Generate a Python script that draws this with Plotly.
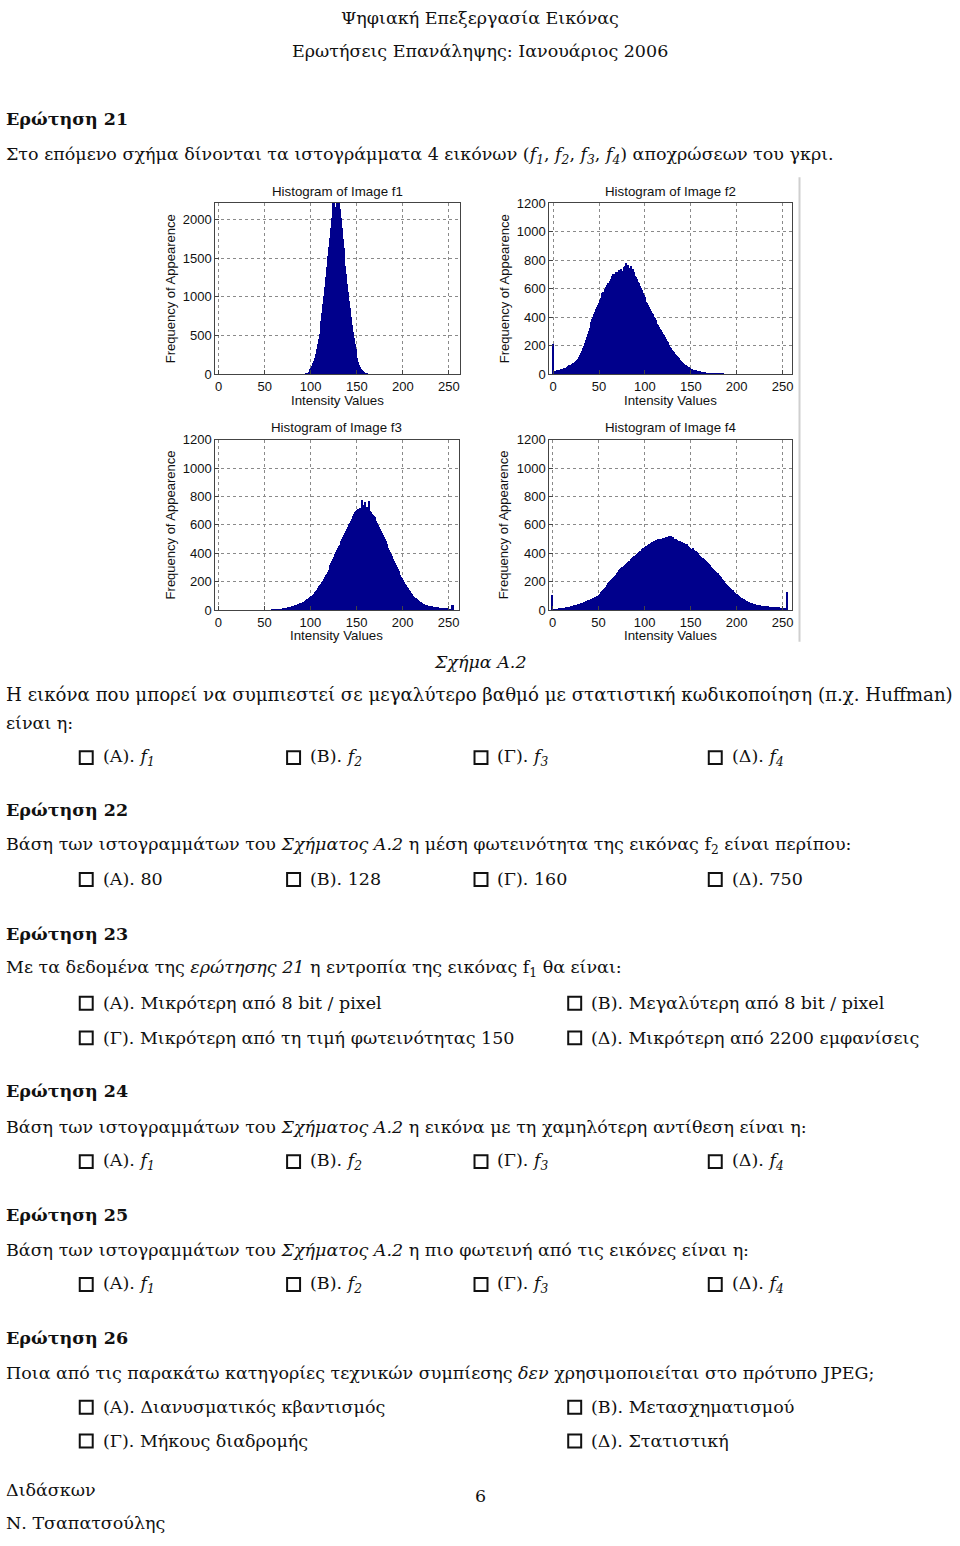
import plotly.graph_objects as go

# ---------------- data ----------------
intensity = list(range(256))

f1_counts = [
    0, 0, 0, 0, 0, 0, 0, 0, 0, 0, 0, 0, 0, 0, 0, 0,
    0, 0, 0, 0, 0, 0, 0, 0, 0, 0, 0, 0, 0, 0, 0, 0,
    0, 0, 0, 0, 0, 0, 0, 0, 0, 0, 0, 0, 0, 0, 0, 0,
    0, 0, 0, 0, 0, 0, 0, 0, 0, 0, 0, 0, 0, 0, 0, 0,
    0, 0, 0, 0, 0, 0, 0, 0, 0, 0, 0, 0, 0, 0, 0, 0,
    0, 0, 0, 0, 0, 0, 0, 0, 0, 0, 0, 0, 0, 0, 2, 5,
    10, 18, 30, 45, 65, 85, 110, 140, 175, 215, 265, 320, 385, 450, 520, 600,
    690, 790, 900, 1010, 1120, 1250, 1380, 1520, 1640, 1760, 1880, 2010, 2120, 2230, 2250, 2160,
    2150, 2240, 2250, 2230, 2130, 2010, 1880, 1750, 1630, 1520, 1400, 1290, 1170, 1060, 950, 850,
    740, 640, 550, 470, 390, 320, 260, 205, 160, 125, 95, 72, 54, 40, 29, 20,
    14, 9, 6, 4, 2, 1, 0, 0, 0, 0, 0, 0, 0, 0, 0, 0,
    0, 0, 0, 0, 0, 0, 0, 0, 0, 0, 0, 0, 0, 0, 0, 0,
    0, 0, 0, 0, 0, 0, 0, 0, 0, 0, 0, 0, 0, 0, 0, 0,
    0, 0, 0, 0, 0, 0, 0, 0, 0, 0, 0, 0, 0, 0, 0, 0,
    0, 0, 0, 0, 0, 0, 0, 0, 0, 0, 0, 0, 0, 0, 0, 0,
    0, 0, 0, 0, 0, 0, 0, 0, 0, 0, 0, 0, 0, 0, 0, 0,
]

f2_counts = [
    215, 18, 22, 25, 27, 26, 30, 33, 31, 36, 38, 37, 42, 45, 44, 50,
    54, 58, 62, 60, 68, 75, 80, 78, 88, 95, 102, 110, 118, 125, 135, 148,
    165, 182, 200, 220, 240, 258, 280, 300, 325, 345, 365, 385, 405, 420, 440, 455,
    470, 485, 500, 520, 535, 555, 570, 580, 560, 595, 610, 625, 640, 630, 655, 665,
    690, 680, 700, 690, 705, 715, 700, 720, 730, 710, 740, 725, 720, 750, 735, 760,
    780, 700, 765, 745, 720, 760, 700, 740, 700, 715, 690, 680, 665, 650, 640, 620,
    605, 590, 570, 555, 540, 525, 510, 500, 485, 470, 460, 445, 430, 420, 405, 395,
    380, 370, 355, 345, 330, 320, 308, 295, 285, 272, 260, 248, 236, 225, 214, 203,
    192, 182, 172, 162, 153, 144, 135, 127, 119, 111, 104, 97, 90, 84, 78, 72,
    67, 62, 57, 53, 49, 45, 42, 39, 36, 33, 31, 29, 27, 25, 23, 21,
    20, 18, 17, 16, 15, 14, 13, 12, 11, 10, 9, 9, 8, 7, 7, 6,
    6, 5, 5, 4, 4, 4, 3, 3, 3, 3, 2, 2, 2, 2, 2, 1,
    1, 1, 1, 1, 1, 1, 1, 0, 1, 0, 0, 0, 0, 0, 0, 0,
    0, 0, 0, 0, 0, 0, 0, 0, 0, 0, 0, 0, 0, 0, 0, 0,
    0, 0, 0, 0, 0, 0, 0, 0, 0, 0, 0, 0, 0, 0, 0, 0,
    0, 0, 0, 0, 0, 0, 0, 0, 0, 0, 0, 0, 0, 0, 0, 0,
]

f3_counts = [
    0, 0, 0, 0, 0, 0, 0, 0, 0, 0, 0, 0, 0, 0, 0, 0,
    0, 0, 0, 0, 0, 0, 0, 0, 0, 0, 0, 0, 0, 0, 0, 0,
    0, 0, 0, 0, 0, 0, 0, 0, 0, 0, 0, 0, 0, 0, 0, 0,
    0, 0, 0, 0, 0, 0, 0, 1, 1, 2, 2, 3, 3, 4, 5, 5,
    6, 7, 8, 9, 10, 11, 12, 14, 15, 16, 18, 19, 20, 22, 24, 26,
    28, 30, 32, 34, 36, 38, 41, 44, 47, 50, 52, 55, 58, 62, 66, 70,
    74, 78, 82, 88, 92, 98, 104, 110, 118, 126, 134, 142, 150, 158, 168, 178,
    188, 198, 210, 222, 234, 246, 258, 270, 284, 300, 316, 330, 345, 362, 378, 395,
    410, 422, 436, 450, 462, 476, 490, 504, 518, 532, 545, 560, 575, 590, 605, 618,
    630, 640, 655, 665, 680, 690, 700, 705, 715, 700, 720, 710, 775, 740, 700, 735,
    760, 700, 730, 690, 770, 700, 690, 680, 670, 665, 655, 640, 630, 615, 600, 585,
    570, 560, 545, 530, 515, 500, 485, 470, 455, 440, 425, 410, 395, 380, 365, 350,
    335, 320, 305, 290, 275, 262, 250, 238, 225, 212, 200, 188, 176, 165, 155, 145,
    136, 128, 120, 112, 104, 97, 90, 84, 78, 72, 67, 62, 58, 54, 50, 46,
    43, 40, 38, 36, 34, 32, 31, 29, 28, 26, 25, 24, 23, 22, 21, 20,
    19, 18, 18, 17, 16, 15, 15, 14, 13, 13, 12, 12, 11, 10, 35, 40,
]

f4_counts = [
    110, 8, 9, 10, 11, 10, 12, 13, 14, 13, 15, 16, 17, 18, 19, 20,
    22, 23, 25, 26, 28, 30, 29, 32, 35, 33, 38, 40, 42, 44, 48, 50,
    52, 54, 57, 60, 62, 64, 67, 70, 73, 76, 80, 82, 85, 88, 92, 95,
    98, 100, 104, 110, 118, 126, 134, 142, 150, 158, 166, 175, 184, 192, 200, 208,
    215, 222, 230, 238, 245, 252, 260, 268, 275, 282, 290, 296, 302, 308, 315, 322,
    328, 335, 340, 345, 350, 356, 362, 368, 374, 380, 385, 392, 398, 404, 410, 416,
    420, 425, 430, 436, 440, 445, 450, 455, 460, 465, 470, 474, 478, 482, 486, 490,
    492, 495, 498, 500, 485, 502, 505, 495, 508, 510, 500, 512, 515, 505, 518, 522,
    510, 525, 505, 515, 500, 495, 505, 490, 498, 480, 492, 485, 475, 480, 470, 472,
    465, 460, 470, 455, 450, 445, 440, 435, 430, 440, 425, 420, 415, 410, 405, 398,
    390, 384, 378, 372, 366, 360, 355, 348, 342, 335, 328, 322, 315, 308, 300, 294,
    287, 280, 273, 266, 260, 252, 244, 236, 228, 220, 212, 204, 196, 188, 180, 172,
    165, 158, 152, 146, 140, 134, 128, 122, 118, 112, 106, 100, 95, 90, 86, 82,
    78, 74, 70, 66, 63, 60, 57, 54, 51, 49, 47, 45, 43, 41, 39, 38,
    37, 36, 35, 34, 33, 32, 31, 30, 30, 29, 28, 28, 27, 27, 26, 26,
    25, 24, 23, 22, 22, 21, 20, 19, 18, 17, 16, 15, 14, 13, 12, 130,
]

x_ticks = [0, 50, 100, 150, 200, 250]
y_ticks_f1 = [0, 500, 1000, 1500, 2000]
y_ticks_other = [0, 200, 400, 600, 800, 1000, 1200]
titles = ["Histogram of Image f1", "Histogram of Image f2",
          "Histogram of Image f3", "Histogram of Image f4"]

# ---------------- layout helpers ----------------
W, H = 960, 1546
def px(x):
    return x / W
def py(y):
    return 1 - y / H

panels = [
    # (counts, left, right, top, bottom, xrange, yrange, yticks)
    (f1_counts, 215, 460, 198, 371, [-3.5, 261.5], [0, 2208], y_ticks_f1),
    (f2_counts, 550, 793, 198, 371, [-4.2, 259.8], [0, 1200], y_ticks_other),
    (f3_counts, 215, 459, 437, 609, [-3.3, 260.8], [0, 1200], y_ticks_other),
    (f4_counts, 550, 793, 437, 609, [-3.6, 259.8], [0, 1200], y_ticks_other),
]

fig = go.Figure()
sans = "Liberation Sans, Arial, sans-serif"
serif = "DejaVu Serif, serif"
annotations = []

for i, (counts, l, r, t, b, xr, yr, yt) in enumerate(panels):
    n = "" if i == 0 else str(i + 1)
    fig.add_trace(go.Bar(
        x=intensity, y=counts, width=1.0,
        marker=dict(color="#00008C", line=dict(width=0)),
        xaxis="x" + n, yaxis="y" + n, showlegend=False,
    ))
    axis_common = dict(
        showline=True, mirror=True, linecolor="#444", linewidth=1,
        ticks="inside", ticklen=4, tickcolor="#444",
        showgrid=True, gridcolor="#8a8a8a", griddash="dot", gridwidth=1,
        zeroline=False, tickfont=dict(family=sans, size=13, color="#111"),
        fixedrange=True,
    )
    fig.update_layout(**{
        "xaxis" + n: dict(axis_common, domain=[px(l), px(r)], range=xr,
                          tickvals=x_ticks, anchor="y" + n),
        "yaxis" + n: dict(axis_common, domain=[py(b), py(t)], range=yr,
                          tickvals=yt, anchor="x" + n),
    })
    cx = (l + r) / 2
    annotations.append(dict(text=titles[i], x=px(cx), y=py(t - 12),
                            font=dict(family=sans, size=13.3, color="#111")))
    annotations.append(dict(text="Intensity Values", x=px(cx), y=py(b + 26),
                            font=dict(family=sans, size=13.3, color="#111")))
    annotations.append(dict(text="Frequency of Appearence", x=px(l - 45),
                            y=py((t + b) / 2), textangle=-90,
                            font=dict(family=sans, size=13, color="#111")))

for a in annotations:
    a.update(xref="paper", yref="paper", showarrow=False,
             xanchor="center", yanchor="middle")

# ---------------- document text ----------------
FS = 17.5
def txt(s, x, y, anchor="left", size=FS):
    annotations.append(dict(text=s, x=px(x), y=py(y), xref="paper", yref="paper",
                            showarrow=False, xanchor=anchor, yanchor="middle",
                            font=dict(family=serif, size=size, color="#111")))

shapes = []
def box(x, y):
    shapes.append(dict(type="rect", xref="paper", yref="paper",
                       x0=px(x), x1=px(x + 13), y0=py(y + 6.5), y1=py(y - 6.5),
                       line=dict(color="#111", width=2)))

def option(x, y, s):
    box(x, y)
    txt(s, x + 21, y)

txt("Ψηφιακή Επεξεργασία Εικόνας", 481, 11, "center")
txt("Ερωτήσεις Επανάληψης: Ιανουάριος 2006", 481, 44, "center")

txt("<b>Ερώτηση 21</b>", 3, 113)
txt("Στο επόμενο σχήμα δίνονται τα ιστογράμματα 4 εικόνων (<i>f<sub>1</sub></i>, <i>f<sub>2</sub></i>, "
    "<i>f<sub>3</sub></i>, <i>f<sub>4</sub></i>) αποχρώσεων του γκρι.", 3, 150)
txt("<i>Σχήμα Α.2</i>", 481, 661, "center")
txt("Η εικόνα που μπορεί να συμπιεστεί σε μεγαλύτερο βαθμό με στατιστική κωδικοποίηση (π.χ. Huffman)",
    3, 694, size=18.2)
txt("είναι η:", 3, 723)

cols4 = [79, 287, 475, 710]
fopts = ["(Α). <i>f<sub>1</sub></i>", "(Β). <i>f<sub>2</sub></i>",
         "(Γ). <i>f<sub>3</sub></i>", "(Δ). <i>f<sub>4</sub></i>"]
for cx, s in zip(cols4, fopts):
    option(cx, 758, s)

txt("<b>Ερώτηση 22</b>", 3, 811)
txt("Βάση των ιστογραμμάτων του <i>Σχήματος Α.2</i> η μέση φωτεινότητα της εικόνας f<sub>2</sub> είναι περίπου:", 3, 847)
for cx, s in zip(cols4, ["(Α). 80", "(Β). 128", "(Γ). 160", "(Δ). 750"]):
    option(cx, 881, s)

txt("<b>Ερώτηση 23</b>", 3, 936)
txt("Με τα δεδομένα της <i>ερώτησης 21</i> η εντροπία της εικόνας f<sub>1</sub> θα είναι:", 3, 971)
option(79, 1006, "(Α). Μικρότερη από 8 bit / pixel")
option(569, 1006, "(Β). Μεγαλύτερη από 8 bit / pixel")
option(79, 1041, "(Γ). Μικρότερη από τη τιμή φωτεινότητας 150")
option(569, 1041, "(Δ). Μικρότερη από 2200 εμφανίσεις")

txt("<b>Ερώτηση 24</b>", 3, 1095)
txt("Βάση των ιστογραμμάτων του <i>Σχήματος Α.2</i> η εικόνα με τη χαμηλότερη αντίθεση είναι η:", 3, 1131)
for cx, s in zip(cols4, fopts):
    option(cx, 1166, s)

txt("<b>Ερώτηση 25</b>", 3, 1220)
txt("Βάση των ιστογραμμάτων του <i>Σχήματος Α.2</i> η πιο φωτεινή από τις εικόνες είναι η:", 3, 1255)
for cx, s in zip(cols4, fopts):
    option(cx, 1290, s)

txt("<b>Ερώτηση 26</b>", 3, 1344)
txt("Ποια από τις παρακάτω κατηγορίες τεχνικών συμπίεσης <i>δεν</i> χρησιμοποιείται στο πρότυπο JPEG;", 3, 1379)
option(79, 1414, "(Α). Διανυσματικός κβαντισμός")
option(569, 1414, "(Β). Μετασχηματισμού")
option(79, 1448, "(Γ). Μήκους διαδρομής")
option(569, 1448, "(Δ). Στατιστική")

txt("Διδάσκων", 3, 1498)
txt("6", 481, 1504, "center")
txt("Ν. Τσαπατσούλης", 3, 1531)

# light frame edge at right of the figure image
shapes.append(dict(type="line", xref="paper", yref="paper",
                   x0=px(801), x1=px(801), y0=py(172), y1=py(641),
                   line=dict(color="#cfcfcf", width=2)))

fig.update_layout(
    autosize=True, margin=dict(l=0, r=0, t=0, b=0),
    paper_bgcolor="white", plot_bgcolor="white",
    bargap=0, annotations=annotations, shapes=shapes,
    showlegend=False,
)

# the graph div is pinned to the page's top-left corner at exactly 960x1546
fig.write_html("out.html",
               default_width="960px;position:absolute;left:0;top:0",
               default_height="1546px",
               config={"displayModeBar": False})
